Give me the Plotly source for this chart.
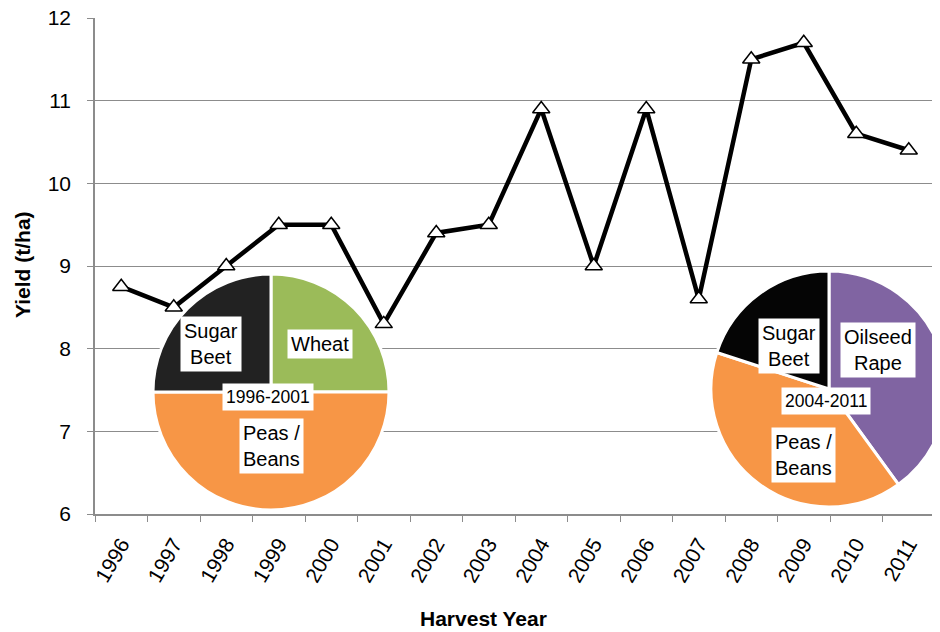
import plotly.graph_objects as go

years = [str(y) for y in range(1996, 2012)]
yields = [8.75, 8.5, 9.0, 9.5, 9.5, 8.3, 9.4, 9.5, 10.9, 9.0, 10.9, 8.6, 11.5, 11.7, 10.6, 10.4]

pie1_labels = ["Wheat", "Peas / Beans", "Sugar Beet"]
pie1_values = [25, 50, 25]
pie1_colors = ["#9BBB59", "#F79646", "#222222"]
pie1_period = "1996-2001"

pie2_labels = ["Oilseed Rape", "Peas / Beans", "Sugar Beet"]
pie2_values = [40, 40, 20]
pie2_colors = ["#8064A2", "#F79646", "#050505"]
pie2_period = "2004-2011"

W, H = 940, 632
OFF = 8  # page body margin
FONT = "Liberation Sans, Arial, sans-serif"

def px(x):
    return (x - OFF) / W

def py(y):
    return 1 - (y - OFF) / H

fig = go.Figure()
fig.add_trace(go.Scatter(
    x=years, y=yields, mode="lines+markers",
    line=dict(color="black", width=4.5),
    marker=dict(symbol="triangle-up", size=15, color="white",
                line=dict(color="black", width=1.5)),
    showlegend=False, hoverinfo="x+y",
))

fig.add_trace(go.Pie(
    labels=pie1_labels, values=pie1_values, sort=False, direction="clockwise",
    rotation=0, textinfo="none", showlegend=False,
    marker=dict(colors=pie1_colors, line=dict(color="white", width=3)),
    domain=dict(x=[px(153), px(389)], y=[py(510), py(274)]),
))
fig.add_trace(go.Pie(
    labels=pie2_labels, values=pie2_values, sort=False, direction="clockwise",
    rotation=0, textinfo="none", showlegend=False,
    marker=dict(colors=pie2_colors, line=dict(color="white", width=3)),
    domain=dict(x=[px(711), px(947)], y=[py(507), py(271)]),
))

def box(text, x, y, size=20):
    fig.add_annotation(text=text, x=px(x), y=py(y), xref="paper", yref="paper",
                       showarrow=False, bgcolor="white", borderpad=3,
                       font=dict(family=FONT, size=size, color="black"),
                       xanchor="center", yanchor="middle")

box("Sugar<br>Beet", 211, 344)
box(pie1_labels[0], 320, 344)
box(pie1_period, 268, 397, 17.5)
box("Peas /<br>Beans", 271, 446)
box("Sugar<br>Beet", 789, 346)
box("Oilseed<br>Rape", 878, 350)
box(pie2_period, 826, 401, 17.5)
box("Peas /<br>Beans", 803, 455)

fig.add_annotation(text="<b>Yield (t/ha)</b>", x=px(23), y=py(265), xref="paper", yref="paper",
                   showarrow=False, textangle=-90, font=dict(family=FONT, size=21, color="black"),
                   xanchor="center", yanchor="middle")
fig.add_annotation(text="<b>Harvest Year</b>", x=px(483), y=py(618), xref="paper", yref="paper",
                   showarrow=False, font=dict(family=FONT, size=21, color="black"),
                   xanchor="center", yanchor="middle")

fig.update_layout(
    width=W, height=H, margin=dict(l=0, r=0, t=0, b=0),
    template="none", plot_bgcolor="white", paper_bgcolor="white",
    font=dict(family=FONT, size=21, color="black"),
    xaxis=dict(domain=[px(95), px(935)], type="category", range=[-0.5, 15.5],
               showgrid=False, showline=True, linecolor="#8c8c8c", linewidth=1.5,
               ticks="outside", tickson="boundaries", ticklen=6, tickcolor="#8c8c8c",
               tickangle=-60, ticklabelstandoff=8, automargin=False,
               ticklabeloverflow="allow",
               tickfont=dict(family=FONT, size=21, color="black"), zeroline=False),
    yaxis=dict(domain=[py(514), py(18)], range=[6, 12], dtick=1,
               showgrid=True, gridcolor="#8c8c8c", gridwidth=1.2,
               showline=True, linecolor="#8c8c8c", linewidth=1.5,
               ticks="outside", ticklen=6, tickcolor="#8c8c8c",
               ticklabelstandoff=12, automargin=False, zeroline=False,
               ticklabeloverflow="allow",
               tickfont=dict(family=FONT, size=21, color="black")),
)

fig.write_html("out.html")
